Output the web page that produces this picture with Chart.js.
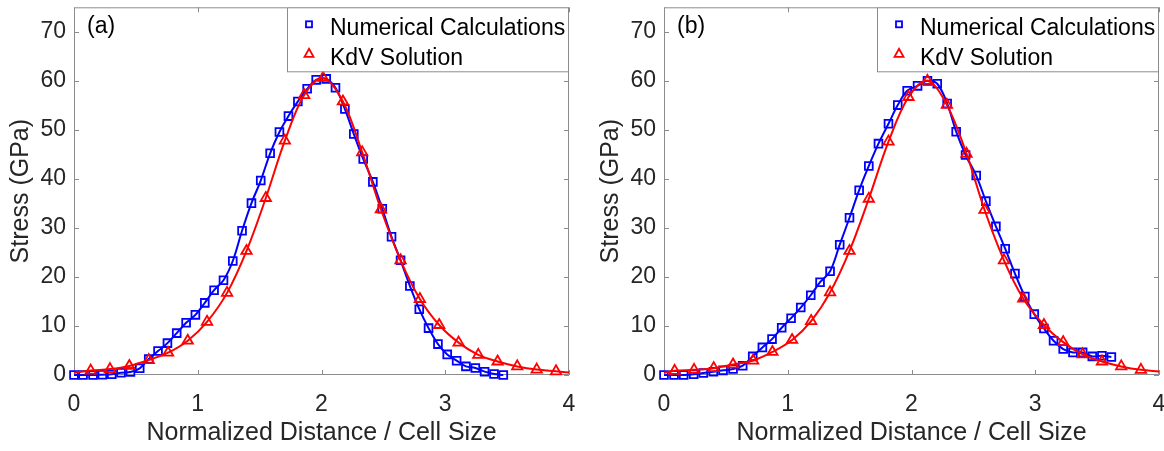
<!DOCTYPE html>
<html>
<head>
<meta charset="utf-8">
<script src="https://cdn.jsdelivr.net/npm/chart.js@4"></script>
<style>
  html, body { margin: 0; padding: 0; background: #fff; overflow: hidden; width: 1164px; height: 451px; }
  .panel { position: absolute; top: 0; width: 590px; height: 451px; }
</style>
</head>
<body>
<div class="panel" style="left:0"><canvas id="chartA" width="590" height="451"></canvas></div>
<div class="panel" style="left:590px"><canvas id="chartB" width="590" height="451"></canvas></div>
<script>
// ticks
var xTicks = [0, 1, 2, 3, 4];
var yTicks = [0, 10, 20, 30, 40, 50, 60, 70];
var seriesNames = ['Numerical Calculations', 'KdV Solution'];

// panel (a) - numerical calculations
var aNumX = [0.000, 0.073, 0.154, 0.229, 0.305, 0.380, 0.456, 0.531, 0.604, 0.679,
             0.755, 0.830, 0.906, 0.981, 1.057, 1.132, 1.208, 1.283, 1.358, 1.434,
             1.509, 1.585, 1.660, 1.733, 1.809, 1.884, 1.957, 2.038, 2.113, 2.189,
             2.261, 2.337, 2.415, 2.491, 2.566, 2.639, 2.714, 2.790, 2.865, 2.941,
             3.016, 3.092, 3.167, 3.243, 3.318, 3.394, 3.469];
var aNumY = [0.0, 0.0, 0.0, 0.07, 0.14, 0.47, 0.6, 1.36, 3.25, 4.88,
             6.5, 8.54, 10.64, 12.27, 14.71, 17.29, 19.32, 23.25, 29.42, 35.05,
             39.66, 45.22, 49.56, 52.81, 55.8, 58.37, 60.2, 60.4, 58.58, 54.24,
             49.15, 44.07, 39.39, 33.9, 28.2, 23.39, 18.17, 13.42, 9.56, 6.3,
             4.2, 2.92, 1.76, 1.42, 0.68, 0.2, 0.0];
// panel (a) - KdV solution (first and last entries are the curve ends, no marker)
var aKdvX = [0, 0.135, 0.291, 0.447, 0.604, 0.760, 0.919, 1.075, 1.237, 1.394, 1.550,
             1.704, 1.860, 2.013, 2.173, 2.329, 2.480, 2.639, 2.795, 2.951, 3.108,
             3.267, 3.423, 3.582, 3.739, 3.895, 4];
var aKdvY = [0.45, 0.9, 1.2, 1.85, 3.05, 4.55, 7.0, 10.85, 16.75, 25.3, 36.1,
             47.8, 57.1, 60.6, 55.8, 45.4, 33.8, 23.4, 15.5, 10.2, 6.6,
             4.1, 2.75, 1.75, 1.1, 0.75, 0.5];

// panel (b) - numerical calculations
var bNumX = [0.000, 0.081, 0.159, 0.240, 0.318, 0.399, 0.477, 0.558, 0.636, 0.717,
             0.795, 0.873, 0.951, 1.027, 1.105, 1.186, 1.261, 1.342, 1.420, 1.499,
             1.577, 1.655, 1.733, 1.814, 1.889, 1.965, 2.049, 2.129, 2.208, 2.288,
             2.361, 2.437, 2.523, 2.601, 2.682, 2.757, 2.836, 2.916, 2.992, 3.070,
             3.148, 3.226, 3.305, 3.383, 3.461, 3.539, 3.615];
var bNumY = [0.0, 0.0, 0.0, 0.14, 0.41, 0.68, 0.95, 1.22, 1.9, 3.8,
             5.63, 7.32, 9.63, 11.59, 13.76, 16.27, 18.92, 21.15, 26.58, 32.07,
             37.69, 42.64, 47.19, 51.25, 55.05, 57.97, 58.98, 60.0, 59.4, 55.39,
             49.63, 44.88, 40.68, 35.46, 30.31, 25.76, 20.68, 16.0, 12.41, 9.49,
             6.98, 5.29, 4.61, 4.61, 3.8, 3.93, 3.66];
// panel (b) - KdV solution
var bKdvX = [0, 0.086, 0.243, 0.402, 0.558, 0.720, 0.876, 1.035, 1.189, 1.342, 1.499,
             1.655, 1.814, 1.976, 2.129, 2.286, 2.445, 2.590, 2.747, 2.903, 3.070,
             3.226, 3.383, 3.539, 3.695, 3.854, 4];
var bKdvY = [0.45, 0.85, 1.05, 1.4, 2.15, 2.95, 4.7, 7.15, 11.0, 16.85, 25.3,
             35.95, 47.6, 56.7, 60.0, 55.1, 45.1, 33.7, 23.4, 15.6, 10.2,
             6.7, 4.2, 2.75, 1.75, 1.05, 0.7];

var fontFamily = '"Liberation Sans", Arial, sans-serif';
var textColor = '#262626';
var axisColor = '#8c8c8c';
var blue = '#0000ff';
var red = '#ff0000';

function toPoints(xs, ys) {
    return xs.map(function (x, i) { return { x: x, y: ys[i] }; });
}

// box, inward ticks, panel letter and legend (MATLAB look)
var framePlugin = {
    id: 'frame',
    beforeDatasetsDraw: function (chart) {
        var ctx = chart.ctx, a = chart.chartArea;
        var xs = chart.scales.x, ys = chart.scales.y;
        ctx.save();
        ctx.strokeStyle = axisColor;
        ctx.lineWidth = 1;
        ctx.beginPath();
        ctx.rect(a.left + 0.5, a.top + 0.5, a.right - a.left - 1, a.bottom - a.top - 1);
        xTicks.forEach(function (v) {
            var px = Math.round(xs.getPixelForValue(v)) + 0.5;
            ctx.moveTo(px, a.bottom); ctx.lineTo(px, a.bottom - 5);
            ctx.moveTo(px, a.top); ctx.lineTo(px, a.top + 5);
        });
        yTicks.forEach(function (v) {
            var py = Math.round(ys.getPixelForValue(v)) + 0.5;
            ctx.moveTo(a.left, py); ctx.lineTo(a.left + 5, py);
            ctx.moveTo(a.right, py); ctx.lineTo(a.right - 5, py);
        });
        ctx.stroke();
        ctx.restore();
    },
    afterDraw: function (chart, args, opts) {
        var ctx = chart.ctx, a = chart.chartArea;
        ctx.save();
        // panel letter
        ctx.fillStyle = '#000';
        ctx.font = '23px ' + fontFamily;
        ctx.textBaseline = 'middle';
        ctx.textAlign = 'left';
        ctx.fillText(opts.letter, a.left + 13, 27);
        // legend box
        var lx = a.left + 213, ly = a.top, lw = a.right - lx - 1, lh = 64;
        ctx.fillStyle = '#fff';
        ctx.fillRect(lx, ly, lw, lh);
        ctx.strokeStyle = axisColor;
        ctx.lineWidth = 1;
        ctx.strokeRect(lx + 0.5, ly + 0.5, lw, lh);
        // markers
        ctx.lineWidth = 1.8;
        ctx.strokeStyle = blue;
        ctx.strokeRect(lx + 19, ly + 14, 6, 6);
        ctx.strokeStyle = red;
        ctx.beginPath();
        ctx.moveTo(lx + 22, ly + 41.5);
        ctx.lineTo(lx + 26.5, ly + 49.5);
        ctx.lineTo(lx + 17.5, ly + 49.5);
        ctx.closePath();
        ctx.stroke();
        // texts
        ctx.fillStyle = '#000';
        ctx.font = '23px ' + fontFamily;
        ctx.fillText(seriesNames[0], lx + 43, ly + 21);
        ctx.fillText(seriesNames[1], lx + 43, ly + 51);
        ctx.restore();
    }
};

function makeChart(canvasId, letter, numX, numY, kdvX, kdvY) {
    var ctx = document.getElementById(canvasId).getContext('2d');
    var lastKdv = kdvX.length - 1;
    return new Chart(ctx, {
        type: 'scatter',
        data: {
            datasets: [{
                label: seriesNames[0],
                data: toPoints(numX, numY),
                showLine: true,
                borderColor: blue,
                borderWidth: 2,
                backgroundColor: 'rgba(0,0,0,0)',
                pointStyle: 'rect',
                pointRadius: 5.5,
                pointBorderWidth: 1.8,
                pointBorderColor: blue,
                pointBackgroundColor: 'rgba(0,0,0,0)',
                tension: 0.35,
                clip: false,
                order: 1
            }, {
                label: seriesNames[1],
                data: toPoints(kdvX, kdvY),
                showLine: true,
                borderColor: red,
                borderWidth: 2,
                backgroundColor: 'rgba(0,0,0,0)',
                pointStyle: 'triangle',
                pointRadius: function (c) {
                    return (c.dataIndex === 0 || c.dataIndex === lastKdv) ? 0 : 6;
                },
                pointBorderWidth: 1.8,
                pointBorderColor: red,
                pointBackgroundColor: 'rgba(0,0,0,0)',
                tension: 0.35,
                clip: false,
                order: 0
            }]
        },
        options: {
            responsive: false,
            animation: false,
            events: [],
            layout: { padding: { top: 7, right: 21, bottom: 0, left: 0 } },
            plugins: {
                legend: { display: false },
                tooltip: { enabled: false },
                frame: { letter: letter }
            },
            scales: {
                x: {
                    type: 'linear',
                    min: 0,
                    max: 4,
                    afterBuildTicks: function (s) { s.ticks = xTicks.map(function (v) { return { value: v }; }); },
                    afterFit: function (s) { s.height = 76; s.paddingLeft = 0; s.paddingRight = 0; },
                    grid: { display: false, drawTicks: false, tickLength: 0 },
                    border: { display: false },
                    ticks: { color: textColor, font: { family: fontFamily, size: 23 }, padding: 16, maxRotation: 0 },
                    title: {
                        display: true,
                        text: 'Normalized Distance / Cell Size',
                        color: textColor,
                        font: { family: fontFamily, size: 25 },
                        padding: { top: 0, bottom: 3 }
                    }
                },
                y: {
                    type: 'linear',
                    min: 0,
                    max: 75,
                    afterBuildTicks: function (s) { s.ticks = yTicks.map(function (v) { return { value: v }; }); },
                    afterFit: function (s) { s.width = 74; s.paddingTop = 0; s.paddingBottom = 0; },
                    grid: { display: false, drawTicks: false, tickLength: 0 },
                    border: { display: false },
                    ticks: { color: textColor, font: { family: fontFamily, size: 23 }, padding: 8 },
                    title: {
                        display: true,
                        text: 'Stress (GPa)',
                        color: textColor,
                        font: { family: fontFamily, size: 25 },
                        padding: { top: 6, bottom: 0 }
                    }
                }
            }
        },
        plugins: [framePlugin]
    });
}

makeChart('chartA', '(a)', aNumX, aNumY, aKdvX, aKdvY);
makeChart('chartB', '(b)', bNumX, bNumY, bKdvX, bKdvY);
</script>
</body>
</html>
